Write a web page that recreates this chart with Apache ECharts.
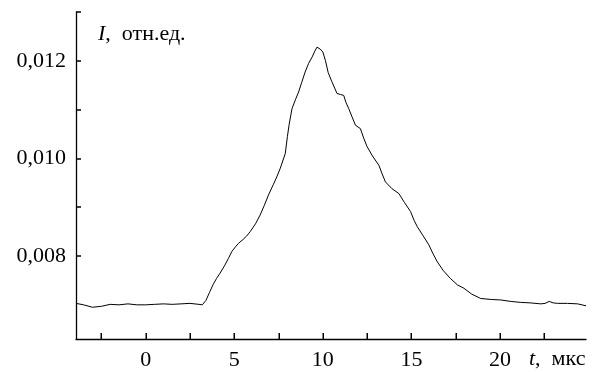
<!DOCTYPE html>
<html>
<head>
<meta charset="utf-8">
<script src="https://cdn.jsdelivr.net/npm/echarts@6/dist/echarts.min.js"></script>
<style>
  html, body { margin: 0; padding: 0; background: #fff; }
  #chart { width: 597px; height: 372px; }
</style>
</head>
<body>
<div id="chart"></div>
<script>
// time, мкс
const tValues = [
  -3.93, -3.5, -3.0, -2.5, -2.0, -1.5, -1.0, -0.5, 0.0, 0.5, 1.0, 1.5, 2.0, 2.5, 3.0, 3.2,
  3.4, 3.6, 3.8, 4.0, 4.2, 4.45, 4.67, 4.86, 5.05, 5.24, 5.5, 5.7, 5.9, 6.2, 6.46, 6.7,
  6.93, 7.2, 7.4, 7.6, 7.88, 8.0, 8.1, 8.26, 8.45, 8.63, 8.8, 9.0, 9.2, 9.4, 9.55, 9.67,
  9.85, 10.0, 10.15, 10.3, 10.5, 10.8, 11.0, 11.18, 11.3, 11.46, 11.65, 11.84, 12.12, 12.3,
  12.5, 12.8, 13.16, 13.35, 13.53, 13.9, 14.29, 14.6, 14.95, 15.15, 15.33, 15.65, 15.98, 16.2,
  16.46, 16.8, 17.2, 17.59, 17.96, 18.4, 18.91, 19.5, 20.04, 20.6, 21.17, 21.7, 22.3, 22.55,
  22.77, 23.0, 23.25, 23.8, 24.38, 24.85
]
// intensity, отн.ед.
const iValues = [
  0.00703, 0.00700, 0.00695, 0.00697, 0.00701, 0.00700, 0.00702, 0.00700, 0.00700, 0.00701, 0.00702, 0.00701, 0.00702, 0.00703, 0.00701, 0.00700,
  0.00709, 0.00725, 0.00741, 0.00754, 0.00765, 0.00780, 0.00795, 0.00809, 0.00818, 0.00826, 0.00834, 0.00841, 0.00850, 0.00866, 0.00884, 0.00904,
  0.00925, 0.00946, 0.00962, 0.00980, 0.01010, 0.01045, 0.01070, 0.01102, 0.01120, 0.01136, 0.01155, 0.01177, 0.01195, 0.01208, 0.01220, 0.01228,
  0.01224, 0.01218, 0.01200, 0.01176, 0.01158, 0.01133, 0.01131, 0.01129, 0.01115, 0.01102, 0.01085, 0.01068, 0.01061, 0.01042,
  0.01024, 0.01005, 0.00986, 0.00968, 0.00952, 0.00938, 0.00928, 0.00910, 0.00891, 0.00873, 0.00860, 0.00842, 0.00823, 0.00806,
  0.00788, 0.00770, 0.00754, 0.00741, 0.00734, 0.00722, 0.00713, 0.00711, 0.00710, 0.00707, 0.00705, 0.00704, 0.00702, 0.00703,
  0.00707, 0.00704, 0.00703, 0.00703, 0.00702, 0.00698
]

const xTicks = [-2.5, 0, 2.5, 5, 7.5, 10, 12.5, 15, 17.5, 20, 22.5]
const xLabels = [0, 5, 10, 15, 20]
const yTicks = [0.008, 0.009, 0.010, 0.011, 0.012, 0.013]
const yLabels = [0.008, 0.010, 0.012]

const xMin = -3.93
const xMax = 24.85
const yMin = 0.0063
const yMax = 0.013

const font = '"Liberation Serif", "DejaVu Serif", serif'

const chart = echarts.init(document.getElementById('chart'), null, { renderer: 'canvas' })

const tickStyle = { color: '#000', width: 1.5 }

const option = {
  animation: false,
  backgroundColor: '#fff',
  grid: { left: 76, right: 11, top: 12, bottom: 33 },
  xAxis: {
    type: 'value',
    min: xMin,
    max: xMax,
    axisLine: { show: true, onZero: false, lineStyle: { color: '#000', width: 1.3 } },
    axisTick: { show: false },
    axisLabel: {
      customValues: xLabels,
      color: '#000',
      fontFamily: font,
      fontSize: 22,
      margin: 10
    },
    splitLine: { show: false }
  },
  yAxis: {
    type: 'value',
    min: yMin,
    max: yMax,
    axisLine: { show: true, onZero: false, lineStyle: { color: '#000', width: 1.3 } },
    axisTick: { show: true, inside: true, length: 5, customValues: yTicks, lineStyle: tickStyle },
    axisLabel: {
      customValues: yLabels,
      color: '#000',
      fontFamily: font,
      fontSize: 22,
      margin: 10,
      formatter: (v) => v.toFixed(3).replace('.', ',')
    },
    splitLine: { show: false }
  },
  graphic: [
    {
      type: 'text',
      left: 98,
      top: 23,
      style: {
        text: '{i|I},  отн.ед.',
        fill: '#000',
        font: '22px ' + font,
        rich: { i: { fontStyle: 'italic', fontFamily: font, fontSize: 22, fill: '#000' } }
      }
    },
    {
      type: 'text',
      left: 529,
      top: 348,
      style: {
        text: '{i|t},  мкс',
        fill: '#000',
        font: '22px ' + font,
        rich: { i: { fontStyle: 'italic', fontFamily: font, fontSize: 22, fill: '#000' } }
      }
    }
  ],
  series: [
    {
      type: 'line',
      data: tValues.map((t, k) => [t, iValues[k]]),
      showSymbol: false,
      smooth: false,
      lineStyle: { color: '#000', width: 1 }
    },
    {
      // x-axis tick marks drawn as rectangles through the axis scale
      type: 'custom',
      silent: true,
      clip: false,
      z: 10,
      data: xTicks.map((t) => [t, yMin]),
      renderItem: function (params, api) {
        const p = api.coord([api.value(0), api.value(1)])
        return {
          type: 'rect',
          shape: { x: Math.round(p[0]) - 0.5, y: p[1] - 6, width: 1.5, height: 6 },
          style: { fill: '#000' }
        }
      }
    }
  ]
}

chart.setOption(option)
</script>
</body>
</html>
